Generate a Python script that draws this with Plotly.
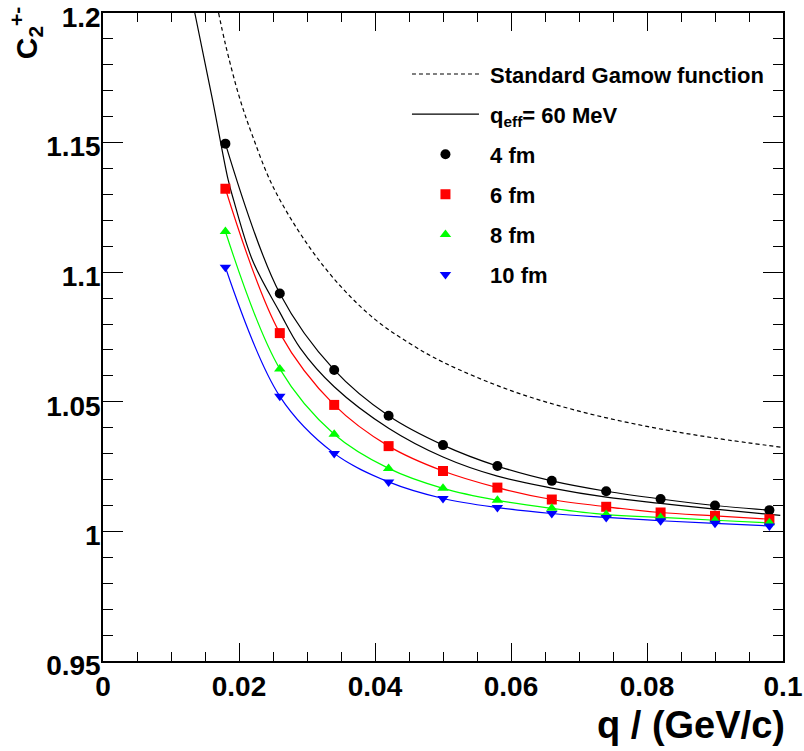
import plotly.graph_objects as go

# ---- data ----
q_pts = [0.018, 0.026, 0.034, 0.042, 0.050, 0.058, 0.066, 0.074, 0.082, 0.090, 0.098]
c2_4fm = [1.1496, 1.0918, 1.0623, 1.0446, 1.0333, 1.0252, 1.0195, 1.0155, 1.0125, 1.0100, 1.0082]
c2_6fm = [1.1322, 1.0765, 1.0488, 1.0329, 1.0233, 1.0169, 1.0123, 1.0095, 1.0073, 1.0060, 1.0047]
c2_8fm = [1.1157, 1.0627, 1.0375, 1.0243, 1.0166, 1.0120, 1.0089, 1.0065, 1.0054, 1.0043, 1.0033]
c2_10fm = [1.1019, 1.0521, 1.0301, 1.0191, 1.0127, 1.0092, 1.0069, 1.0054, 1.0041, 1.0031, 1.0021]

q_gamow = [0.017, 0.018, 0.020, 0.022, 0.025, 0.030, 0.035, 0.040, 0.045, 0.050,
           0.060, 0.070, 0.080, 0.090, 0.100]
c2_gamow = [1.200, 1.188, 1.168, 1.1525, 1.133, 1.111, 1.0944, 1.0818, 1.0727, 1.0653,
            1.0543, 1.0464, 1.0405, 1.0360, 1.0324]

q_eff = [0.0135, 0.0161, 0.0184, 0.0192, 0.022, 0.026, 0.029, 0.034, 0.042, 0.050,
         0.058, 0.066, 0.074, 0.082, 0.090, 0.0996]
c2_eff = [1.200, 1.1666, 1.1357, 1.1279, 1.1045, 1.0845, 1.0707, 1.0558, 1.0398, 1.0287,
          1.0213, 1.0167, 1.0132, 1.0108, 1.0086, 1.0062]

x_ticks = [0, 0.02, 0.04, 0.06, 0.08, 0.1]
x_tick_labels = ["0", "0.02", "0.04", "0.06", "0.08", "0.1"]
y_ticks = [0.95, 1.0, 1.05, 1.1, 1.15, 1.2]
y_tick_labels = ["0.95", "1", "1.05", "1.1", "1.15", "1.2"]

series = [
    ("4 fm", c2_4fm, "#000000", "circle"),
    ("6 fm", c2_6fm, "#ff0000", "square"),
    ("8 fm", c2_8fm, "#00ff00", "triangle-up"),
    ("10 fm", c2_10fm, "#0000ff", "triangle-down"),
]

FONT = "Liberation Sans, Arial, sans-serif"
NB = "\u00a0"

fig = go.Figure()

fig.add_trace(go.Scatter(x=q_gamow, y=c2_gamow, mode="lines", name=NB + "Standard Gamow function",
                         line=dict(color="black", width=1.2, dash="4px,3px", shape="spline"),
                         legendgroup="g"))
fig.add_trace(go.Scatter(x=q_eff, y=c2_eff, mode="lines", name=NB + "q<sub>eff</sub>= 60 MeV",
                         line=dict(color="black", width=1.2, shape="spline"),
                         legendgroup="e"))

for name, vals, col, sym in series:
    fig.add_trace(go.Scatter(x=q_pts, y=vals, mode="lines", showlegend=False,
                             line=dict(color=col, width=1.2, shape="spline")))
for name, vals, col, sym in series:
    fig.add_trace(go.Scatter(x=q_pts, y=vals, mode="markers", name=NB + name,
                             marker=dict(color=col, symbol=sym, size=10, line=dict(width=0)),
                             legendgroup=name))

axis_common = dict(
    showgrid=False, zeroline=False, showline=True, linecolor="black", linewidth=1.5,
    mirror="allticks", ticks="inside", tickcolor="black", tickwidth=1,
    ticklabeloverflow="allow", automargin=False,
    tickfont=dict(family=FONT, size=28, color="black", weight="bold"),
)

fig.update_xaxes(range=[0, 0.1], tickvals=x_ticks, ticktext=x_tick_labels, ticklen=18,
                 minor=dict(ticks="inside", ticklen=9, dtick=0.005, tick0=0,
                            tickcolor="black", tickwidth=1),
                 **axis_common)
fig.update_yaxes(range=[0.95, 1.2], tickvals=y_ticks, ticktext=y_tick_labels, ticklen=20,
                 ticklabelstandoff=-5, ticklabelshift=4,
                 minor=dict(ticks="inside", ticklen=10, dtick=0.01, tick0=0.95,
                            tickcolor="black", tickwidth=1),
                 **axis_common)

fig.add_annotation(text="q / (GeV/c)", xref="paper", yref="paper", x=1.006, y=-0.063,
                   xanchor="right", yanchor="top", showarrow=False,
                   font=dict(family=FONT, size=38, color="black", weight="bold"))
fig.add_annotation(text="C<sub>2</sub><sup>+-</sup>", xref="paper", yref="paper",
                   x=-0.112, y=0.97, xanchor="center", yanchor="middle", textangle=-90,
                   showarrow=False,
                   font=dict(family=FONT, size=30, color="black", weight="bold"))

fig.update_layout(
    width=804, height=751,
    margin=dict(l=103, r=21, t=13, b=90, autoexpand=False),
    paper_bgcolor="white", plot_bgcolor="white",
    font=dict(family=FONT, color="black", weight="bold"),
    legend=dict(x=0.447, y=0.938, xanchor="left", yanchor="top",
                bgcolor="rgba(0,0,0,0)", borderwidth=0,
                font=dict(family=FONT, size=22, color="black", weight="bold"),
                itemwidth=67, tracegroupgap=8.5,
                traceorder="grouped"),
)

# remove the browser's default 8px body margin so the figure sits at the page origin
fig.write_html("out.html", config={"displayModeBar": False},
               post_script="document.body.style.margin='0';")
